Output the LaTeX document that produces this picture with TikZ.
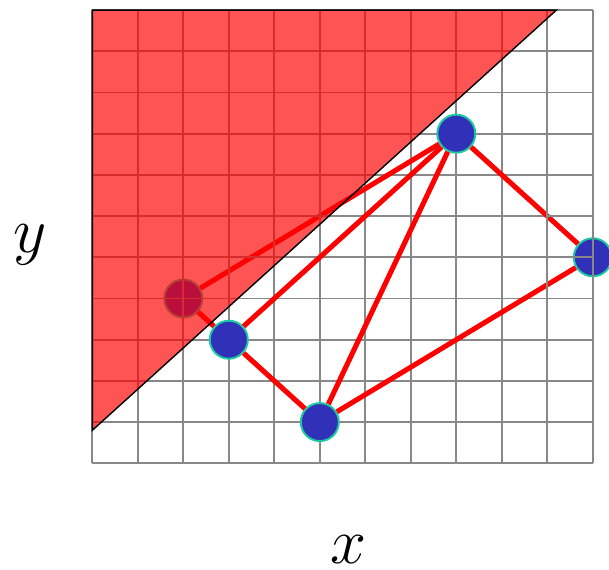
\documentclass[tikz,border=0pt]{standalone}
\usepackage{tikz}
\usetikzlibrary{positioning}
\definecolor{gridgray}{RGB}{136,136,136}
\definecolor{dotblue}{RGB}{48,48,184}
\definecolor{dotrim}{RGB}{30,200,160}

\begin{document}
\begin{tikzpicture}[x=1.1375cm,y=1.03cm,
dot/.style={circle,draw=dotrim,fill=dotblue,line width=1.4pt,minimum size=0.95cm,inner sep=0pt},
link/.style={red,line width=3.6pt},
gridline/.style={gridgray,line width=1.4pt,step={(1,1)}},
axlabel/.style={scale=1.85,transform shape,font=\Huge,inner sep=0pt}]
\useasboundingbox (-2.029,-2.59) rectangle (11.356,11.245);
\draw[gridline] (0,0) grid (11,11);
% points
\node[dot] (a) at (2,4) {};
\node[dot] (b) at (3,3) {};
\node[dot] (c) at (5,1) {};
\node[dot] (d) at (8,8) {};
\node[dot] (e) at (11,5) {};
% edges
\draw[link] (a)--(d);
\draw[link] (a)--(b);
\draw[link] (b)--(d);
\draw[link] (b)--(c);
\draw[link] (c)--(d);
\draw[link] (c)--(e);
\draw[link] (d)--(e);
% shaded half plane
\begin{scope}
\clip (0,11)--(10.2,11)--(0,0.8)--cycle;
\draw[gridline] (0,0) grid (11,11);
\end{scope}
\fill[red,opacity=0.67] (0,11)--(10.2,11)--(0,0.8)--cycle;
\draw[black,line width=1pt] (10.2,11)--(0,11)--(0,0.8)--cycle;
\draw[gridline] (10,0) grid (11,10);
% axis labels
\node[axlabel] (ylab) at (-1.37,5.3) {$y$};
\node[axlabel] (xlab) at (5.64,-2.1) {$x$};
\end{tikzpicture}
\end{document}
